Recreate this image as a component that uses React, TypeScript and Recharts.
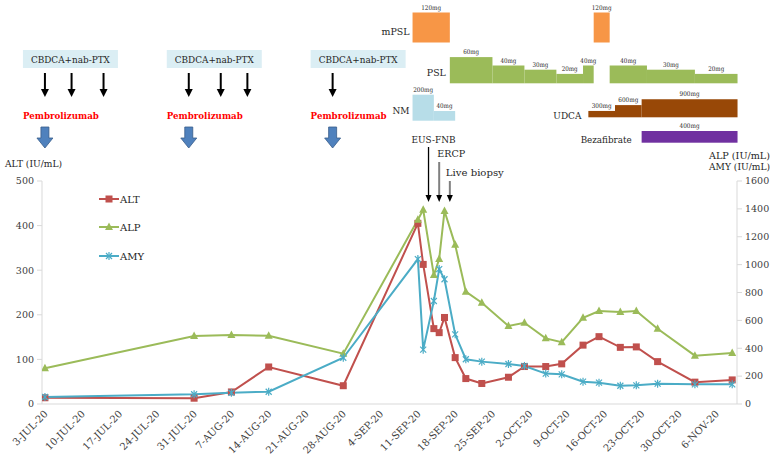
import { ComposedChart, Line, XAxis, YAxis, ReferenceArea, ReferenceDot } from "recharts";

const START = Date.UTC(2020, 6, 3);
const MONTHS = ["JAN", "FEB", "MAR", "APR", "MAY", "JUN", "JUL", "AUG", "SEP", "OCT", "NOV", "DEC"];
const FONT = "'DejaVu Serif', serif";

function dayOf(iso: string) {
  const [y, m, d] = iso.split("-").map(Number);
  return Math.round((Date.UTC(y, m - 1, d) - START) / 86400000);
}

function dayLabel(day: number) {
  const d = new Date(START + day * 86400000);
  return `${d.getUTCDate()}-${MONTHS[d.getUTCMonth()]}-20`;
}

// lab values
const sampleDates = [
  "2020-07-03", "2020-07-31", "2020-08-07", "2020-08-14", "2020-08-28",
  "2020-09-11", "2020-09-12", "2020-09-14", "2020-09-15", "2020-09-16",
  "2020-09-18", "2020-09-20", "2020-09-23", "2020-09-28", "2020-10-01",
  "2020-10-05", "2020-10-08", "2020-10-12", "2020-10-15", "2020-10-19",
  "2020-10-22", "2020-10-26", "2020-11-02", "2020-11-09",
];
const altValues = [14, 13, 27, 83, 41, 405, 313, 169, 160, 194, 104, 57, 46, 60, 84, 84, 90, 132, 151, 127, 128, 95, 49, 54];
const alpValues = [256, 488, 495, 490, 361, 1322, 1393, 925, 1040, 1385, 1142, 806, 727, 560, 583, 471, 443, 619, 667, 660, 667, 540, 347, 366];
const amyValues = [50, 70, 81, 88, 332, 1040, 390, 739, 968, 895, 500, 321, 304, 287, 273, 218, 213, 160, 153, 131, 134, 146, 141, 141];

const tickDates = [
  "2020-07-03", "2020-07-10", "2020-07-17", "2020-07-24", "2020-07-31",
  "2020-08-07", "2020-08-14", "2020-08-21", "2020-08-28", "2020-09-04",
  "2020-09-11", "2020-09-18", "2020-09-25", "2020-10-02", "2020-10-09",
  "2020-10-16", "2020-10-23", "2020-10-30", "2020-11-06",
];
const leftTicks = [0, 100, 200, 300, 400, 500];
const rightTicks = [0, 200, 400, 600, 800, 1000, 1200, 1400, 1600];

// treatments
const chemoCycles = [
  ["2020-07-03", "2020-07-08", "2020-07-14"],
  ["2020-07-30", "2020-08-05", "2020-08-10"],
  ["2020-08-26"],
];
const pembroDates = ["2020-07-03", "2020-07-30", "2020-08-26"];

const mpslDoses: [string, string, number][] = [
  ["2020-09-10", "2020-09-17", 120],
  ["2020-10-14", "2020-10-17", 120],
];
const pslDoses: [string, string, number][] = [
  ["2020-09-17", "2020-09-25", 60],
  ["2020-09-25", "2020-10-01", 40],
  ["2020-10-01", "2020-10-07", 30],
  ["2020-10-07", "2020-10-12", 20],
  ["2020-10-12", "2020-10-14", 40],
  ["2020-10-17", "2020-10-24", 40],
  ["2020-10-24", "2020-11-02", 30],
  ["2020-11-02", "2020-11-10", 20],
];
const nmDoses: [string, string, number][] = [
  ["2020-09-10", "2020-09-14", 200],
  ["2020-09-14", "2020-09-18", 40],
];
const udcaDoses: [string, string, number][] = [
  ["2020-10-13", "2020-10-18", 300],
  ["2020-10-18", "2020-10-23", 600],
  ["2020-10-23", "2020-11-10", 900],
];
const bezaDoses: [string, string, number][] = [["2020-10-23", "2020-11-10", 400]];

const procedures = [
  { label: "EUS-FNB", date: "2020-09-13" },
  { label: "ERCP", date: "2020-09-15" },
  { label: "Live biopsy", date: "2020-09-17" },
];

const data = sampleDates.map((d, i) => ({
  day: dayOf(d),
  alt: altValues[i],
  alp: alpValues[i],
  amy: amyValues[i],
}));

const rows = [
  { name: "mPSL", doses: mpslDoses, base: 42.5, h: () => 30, color: "#f79646", labelY: 35, gap: 3, len: 28 },
  { name: "PSL", doses: pslDoses, base: 83.3, h: (d: number) => 1 + 0.42 * d, color: "#9bbb59", labelY: 76, gap: 4, len: 19 },
  { name: "NM", doses: nmDoses, base: 120.7, h: (d: number) => 5.6 + 0.102 * d, color: "#b7dde8", labelY: 114, gap: 3, len: 17 },
  { name: "UDCA", doses: udcaDoses, base: 117.3, h: (d: number) => 0.5 + 0.0195 * d, color: "#984807", labelY: 119, gap: 7, len: 28 },
  { name: "Bezafibrate", doses: bezaDoses, base: 142.7, h: () => 11.7, color: "#7030a0", labelY: 143, gap: 10, len: 51 },
];

const procStyle = [
  { top: 147, color: "#000000", textDx: -17, textY: 143, len: 44 },
  { top: 162, color: "#808080", textDx: -2, textY: 157, len: 28 },
  { top: 181, color: "#808080", textDx: -4, textY: 176, len: 58 },
];

const RED = "#c0504d";
const GREEN = "#9bbb59";
const BLUE = "#4bacc6";
const INK = "#262626";

function SquareDot(p: any) {
  if (p.cx == null) return null;
  return <rect key={p.key} x={p.cx - 3.5} y={p.cy - 3.5} width={7} height={7} fill={RED} />;
}
function TriangleDot(p: any) {
  if (p.cx == null) return null;
  return (
    <polygon
      key={p.key}
      points={`${p.cx},${p.cy - 4.5} ${p.cx + 4},${p.cy + 3} ${p.cx - 4},${p.cy + 3}`}
      fill={GREEN}
    />
  );
}
function StarDot(p: any) {
  if (p.cx == null) return null;
  const { cx, cy } = p;
  return (
    <g key={p.key} stroke={BLUE} strokeWidth={1.2}>
      <line x1={cx - 3} y1={cy - 3} x2={cx + 3} y2={cy + 3} />
      <line x1={cx - 3} y1={cy + 3} x2={cx + 3} y2={cy - 3} />
      <line x1={cx} y1={cy - 4} x2={cx} y2={cy + 4} />
    </g>
  );
}

// text fitted to the width it has in the reference
function Txt({ x, y, len, size = 9.5, anchor = "start", fill = INK, bold = false, children }: any) {
  return (
    <text
      x={x}
      y={y}
      textAnchor={anchor}
      fontSize={size}
      fontWeight={bold ? "bold" : "normal"}
      fill={fill}
      style={{ fontFamily: FONT }}
      textLength={len}
      lengthAdjust="spacingAndGlyphs"
    >
      {children}
    </text>
  );
}

function DateTick({ x, y, payload }: any) {
  return (
    <g transform={`translate(${x},${y})`}>
      <text x={0} y={0} dy={5} textAnchor="end" transform="rotate(-45)" fontSize={10} fill="#404040" style={{ fontFamily: FONT }}>
        {dayLabel(payload.value)}
      </text>
    </g>
  );
}

const axisTick = { fontSize: 9.5, fill: "#404040", style: { fontFamily: FONT } };

function Legend() {
  const items = [
    { name: "ALT", color: RED, Dot: SquareDot, top: 192 },
    { name: "ALP", color: GREEN, Dot: TriangleDot, top: 220 },
    { name: "AMY", color: BLUE, Dot: StarDot, top: 249 },
  ];
  return (
    <>
      {items.map(({ name, color, Dot, top }) => (
        <div key={name} style={{ position: "absolute", left: 99, top, display: "flex", alignItems: "center", fontSize: 10 }}>
          <svg width={20} height={14}>
            <line x1={0} y1={7} x2={20} y2={7} stroke={color} strokeWidth={2} />
            <Dot cx={10} cy={7} />
          </svg>
          <span style={{ marginLeft: 1 }}>{name}</span>
        </div>
      ))}
    </>
  );
}

export default function App() {
  return (
    <div style={{ position: "absolute", left: 0, top: 0, width: 772, height: 457, background: "#fff", fontFamily: FONT, color: INK }}>
      <ComposedChart width={772} height={457} data={data} margin={{ top: 181, right: 0, bottom: 0, left: 0 }}>
        <XAxis
          type="number"
          dataKey="day"
          domain={[-0.55, 129.9]}
          ticks={tickDates.map(dayOf)}
          interval={0}
          allowDataOverflow
          stroke="#d9d9d9"
          tickLine={false}
          tickSize={5}
          height={53}
          tick={(p: any) => <DateTick {...p} />}
        />
        <YAxis
          yAxisId="left"
          domain={[0, 500]}
          ticks={leftTicks}
          width={42}
          stroke="#d9d9d9"
          tickSize={5}
          tickMargin={3}
          tick={axisTick}
        />
        <YAxis
          yAxisId="right"
          orientation="right"
          domain={[0, 1600]}
          ticks={rightTicks}
          width={35}
          stroke="#d9d9d9"
          tickSize={5}
          tickMargin={3}
          tick={axisTick}
        />

        {/* chemo boxes and arrows */}
        {chemoCycles.map((cycle, ci) => (
          <ReferenceDot
            key={`box${ci}`}
            yAxisId="left"
            x={dayOf(cycle[0])}
            y={0}
            ifOverflow="visible"
            shape={(p: any) => (
              <g>
                <rect x={p.cx - 22} y={50} width={95} height={18} fill="#dbeef4" />
                <Txt x={p.cx - 22 + 47.5} y={63} len={79} size={9} anchor="middle">
                  CBDCA+nab-PTX
                </Txt>
              </g>
            )}
          />
        ))}
        {chemoCycles.flat().map((d, i) => (
          <ReferenceDot
            key={`ch${i}`}
            yAxisId="left"
            x={dayOf(d)}
            y={0}
            ifOverflow="visible"
            shape={(p: any) => (
              <g>
                <line x1={p.cx} y1={73} x2={p.cx} y2={90} stroke="#000" strokeWidth={2} />
                <polygon points={`${p.cx - 4},${89} ${p.cx + 4},${89} ${p.cx},${97}`} fill="#000" />
              </g>
            )}
          />
        ))}
        {pembroDates.map((d, i) => (
          <ReferenceDot
            key={`pe${i}`}
            yAxisId="left"
            x={dayOf(d)}
            y={0}
            ifOverflow="visible"
            shape={(p: any) => (
              <g>
                <Txt x={p.cx - 22} y={119} len={76} size={8.5} bold fill="#ff0000">
                  Pembrolizumab
                </Txt>
                <polygon
                  points={`${p.cx - 4},127 ${p.cx + 4},127 ${p.cx + 4},138 ${p.cx + 8},138 ${p.cx},148 ${p.cx - 8},138 ${p.cx - 4},138`}
                  fill="#4f81bd"
                  stroke="#385d8a"
                  strokeWidth={0.8}
                />
              </g>
            )}
          />
        ))}

        {/* drug courses */}
        {rows.map((row) =>
          row.doses.map(([s, e, dose], i) => (
            <ReferenceArea
              key={`${row.name}${i}`}
              yAxisId="left"
              x1={dayOf(s)}
              x2={dayOf(e)}
              ifOverflow="visible"
              shape={(p: any) => {
                const h = row.h(dose);
                const label = `${dose}mg`;
                return (
                  <g>
                    <rect x={p.x} y={row.base - h} width={p.width} height={h} fill={row.color} />
                    <Txt x={p.x + p.width / 2} y={row.base - h - 3} len={label.length * 4} size={6.5} anchor="middle">
                      {label}
                    </Txt>
                    {i === 0 && (
                      <Txt x={p.x - row.gap} y={row.labelY} len={row.len} size={9} anchor="end">
                        {row.name}
                      </Txt>
                    )}
                  </g>
                );
              }}
            />
          ))
        )}

        {/* procedures */}
        {procedures.map((pr, i) => (
          <ReferenceDot
            key={pr.label}
            yAxisId="left"
            x={dayOf(pr.date)}
            y={0}
            ifOverflow="visible"
            shape={(p: any) => {
              const st = procStyle[i];
              return (
                <g>
                  <Txt x={p.cx + st.textDx} y={st.textY} len={st.len}>
                    {pr.label}
                  </Txt>
                  <line x1={p.cx} y1={st.top} x2={p.cx} y2={196} stroke={st.color} strokeWidth={i === 0 ? 1.3 : 2} />
                  <polygon points={`${p.cx - 3},195 ${p.cx + 3},195 ${p.cx},202`} fill="#000" />
                </g>
              );
            }}
          />
        ))}

        <Line yAxisId="left" type="linear" dataKey="alt" stroke={RED} strokeWidth={2} dot={SquareDot} activeDot={false} isAnimationActive={false} />
        <Line yAxisId="right" type="linear" dataKey="alp" stroke={GREEN} strokeWidth={2} dot={TriangleDot} activeDot={false} isAnimationActive={false} />
        <Line yAxisId="right" type="linear" dataKey="amy" stroke={BLUE} strokeWidth={2} dot={StarDot} activeDot={false} isAnimationActive={false} />
      </ComposedChart>

      <Legend />
      <svg width={772} height={180} style={{ position: "absolute", left: 0, top: 0, pointerEvents: "none" }}>
        <Txt x={5} y={167} len={57} size={9}>ALT (IU/mL)</Txt>
        <Txt x={709} y={159} len={61} size={8.8}>ALP (IU/mL)</Txt>
        <Txt x={709} y={170} len={61} size={8.8}>AMY (IU/mL)</Txt>
      </svg>
    </div>
  );
}
